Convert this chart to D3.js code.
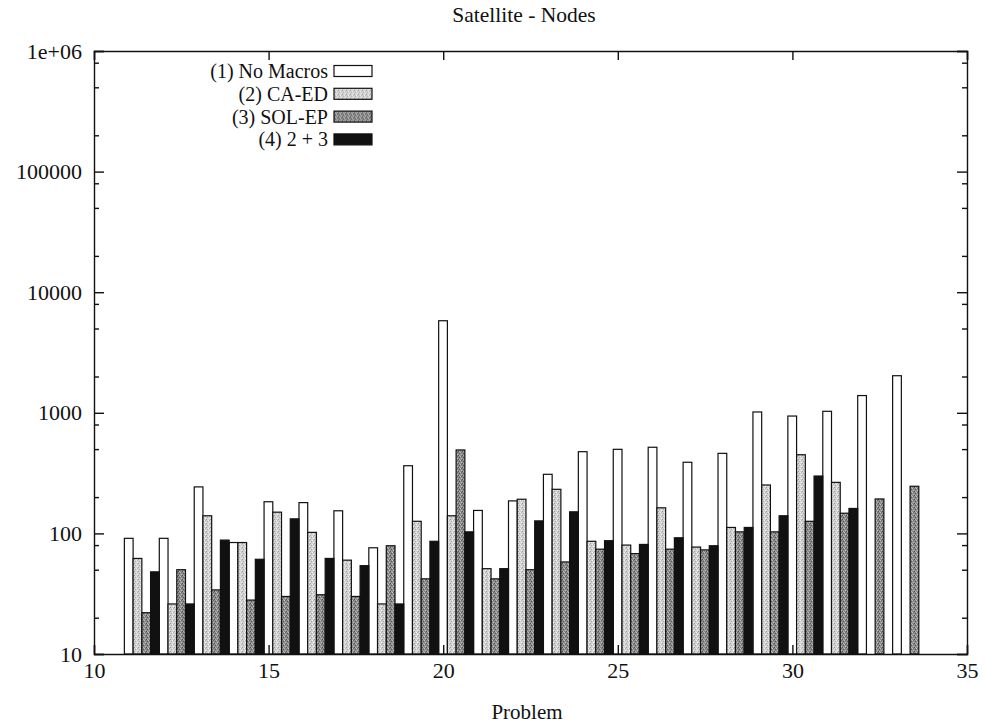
<!DOCTYPE html>
<html>
<head>
<meta charset="utf-8">
<script src="https://cdn.jsdelivr.net/npm/d3@7"></script>
<style>
  body { margin: 0; background: #fff; }
  svg { display: block; }
  text { font-family: "Liberation Serif", "DejaVu Serif", serif; fill: #111; }
  .axis path, .axis line { stroke: #111; stroke-width: 1.4; }
  .axis text { font-size: 22px; }
</style>
</head>
<body>
<svg width="986" height="728"></svg>
<script>
// problems on the x axis
const problems = [11, 12, 13, 14, 15, 16, 17, 18, 19, 20, 21, 22, 23, 24, 25, 26, 27, 28, 29, 30, 31, 32, 33];

// nodes expanded per configuration (null = no bar)
const noMacros = [91, 91, 243, 84, 183, 180, 154, 76, 364, 5800, 155, 186, 309, 476, 498, 518, 389, 461, 1016, 940, 1029, 1390, 2030];
const caEd     = [62, 26, 140, 84, 150, 102, 60, 26, 126, 140, 51, 192, 232, 86, 80, 163, 77, 112, 252, 449, 265, null, null];
const solEp    = [22, 50, 34, 28, 30, 31, 30, 79, 42, 492, 42, 50, 58, 74, 68, 74, 73, 103, 103, 126, 147, 193, 246];
const both     = [48, 26, 88, 61, 132, 62, 54, 26, 86, 103, 51, 127, 151, 87, 81, 92, 79, 112, 140, 299, 161, null, null];

const seriesNames = ["(1) No Macros", "(2) CA-ED", "(3) SOL-EP", "(4) 2 + 3"];
const seriesValues = [noMacros, caEd, solEp, both];
const seriesFills = ["#fff", "url(#light)", "url(#dark)", "#111"];

const xTicks = [10, 15, 20, 25, 30, 35];
const yTicks = [10, 100, 1000, 10000, 100000, 1000000];

const margin = {top: 51, right: 19, bottom: 74, left: 94};

const svg = d3.select("svg");
const width = +svg.attr("width") - margin.left - margin.right;
const height = +svg.attr("height") - margin.top - margin.bottom;

// stipple textures for the grey bars
const defs = svg.append("defs");
function stipple(id, base, dots) {
  const p = defs.append("pattern")
    .attr("id", id)
    .attr("patternUnits", "userSpaceOnUse")
    .attr("width", 4).attr("height", 4);
  p.append("rect").attr("width", 4).attr("height", 4).attr("fill", base);
  dots.forEach(([dx, dy, c]) => {
    p.append("rect").attr("x", dx).attr("y", dy).attr("width", 1).attr("height", 1).attr("fill", c);
  });
}
stipple("light", "#d4d4d4", [[0, 0, "#9a9a9a"], [2, 1, "#f2f2f2"], [1, 2, "#a8a8a8"], [3, 3, "#f0f0f0"], [3, 1, "#b0b0b0"]]);
stipple("dark", "#8c8c8c", [[0, 0, "#4a4a4a"], [2, 1, "#c4c4c4"], [1, 2, "#555"], [3, 3, "#bdbdbd"], [3, 1, "#666"], [1, 0, "#b0b0b0"]]);

const vis = svg.append("g")
  .attr("transform", `translate(${margin.left},${margin.top})`);

const x = d3.scaleLinear().domain([10, 35]).range([0, width]);
const y = d3.scaleLog().domain([10, 1e6]).range([height, 0]);

// minor log ticks at 2, 5, 8 per decade
const minor = [];
for (let e = 1; e < 6; e++) [2, 5, 8].forEach(m => minor.push(m * Math.pow(10, e)));

// bars: four slots of 0.25 per problem
const barW = 0.25;
const offset = -0.13;
const bars = vis.append("g").attr("class", "bars");
seriesValues.forEach((vals, k) => {
  bars.append("g")
    .selectAll("rect")
    .data(problems.map((p, i) => ({p, v: vals[i]})).filter(d => d.v != null))
    .join("rect")
    .attr("x", d => x(d.p + offset + k * barW))
    .attr("width", x(10 + barW) - x(10))
    .attr("y", d => y(d.v))
    .attr("height", d => height - y(d.v))
    .attr("fill", seriesFills[k])
    .attr("stroke", "#111")
    .attr("stroke-width", 1.2);
});

// axes (ticks point inward, mirrored on top/right)
vis.append("g").attr("class", "axis")
  .attr("transform", `translate(0,${height})`)
  .call(d3.axisBottom(x).tickValues(xTicks).tickFormat(d3.format("d")).tickSize(-9).tickPadding(8));
vis.append("g").attr("class", "axis")
  .call(d3.axisTop(x).tickValues(xTicks).tickFormat("").tickSize(-9));

vis.append("g").attr("class", "axis")
  .call(d3.axisLeft(y).tickValues(yTicks).tickFormat(d => d === 1e6 ? "1e+06" : d3.format("d")(d)).tickSize(-10).tickPadding(12));
vis.append("g").attr("class", "axis")
  .attr("transform", `translate(${width},0)`)
  .call(d3.axisRight(y).tickValues(yTicks).tickFormat("").tickSize(-10));

vis.append("g").attr("class", "axis")
  .call(d3.axisLeft(y).tickValues(minor).tickFormat("").tickSize(-5))
  .select(".domain").remove();
vis.append("g").attr("class", "axis")
  .attr("transform", `translate(${width},0)`)
  .call(d3.axisRight(y).tickValues(minor).tickFormat("").tickSize(-5))
  .select(".domain").remove();

// legend
const legend = vis.append("g").attr("class", "legend");
const legendRows = legend.selectAll("g")
  .data(seriesNames)
  .join("g")
  .attr("transform", (d, i) => `translate(0,${20 + i * 22.8})`);
legendRows.append("text")
  .attr("x", 234)
  .attr("dy", "0.35em")
  .attr("text-anchor", "end")
  .style("font-size", "20px")
  .text(d => d);
legendRows.append("rect")
  .attr("x", 240)
  .attr("y", -5.5)
  .attr("width", 38)
  .attr("height", 11)
  .attr("fill", (d, i) => seriesFills[i])
  .attr("stroke", "#111")
  .attr("stroke-width", 1.2);

// titles
svg.append("text")
  .attr("x", 524)
  .attr("y", 22)
  .attr("text-anchor", "middle")
  .style("font-size", "21.5px")
  .text("Satellite - Nodes");

svg.append("text")
  .attr("x", 527)
  .attr("y", 719)
  .attr("text-anchor", "middle")
  .style("font-size", "21px")
  .text("Problem");
</script>
</body>
</html>
